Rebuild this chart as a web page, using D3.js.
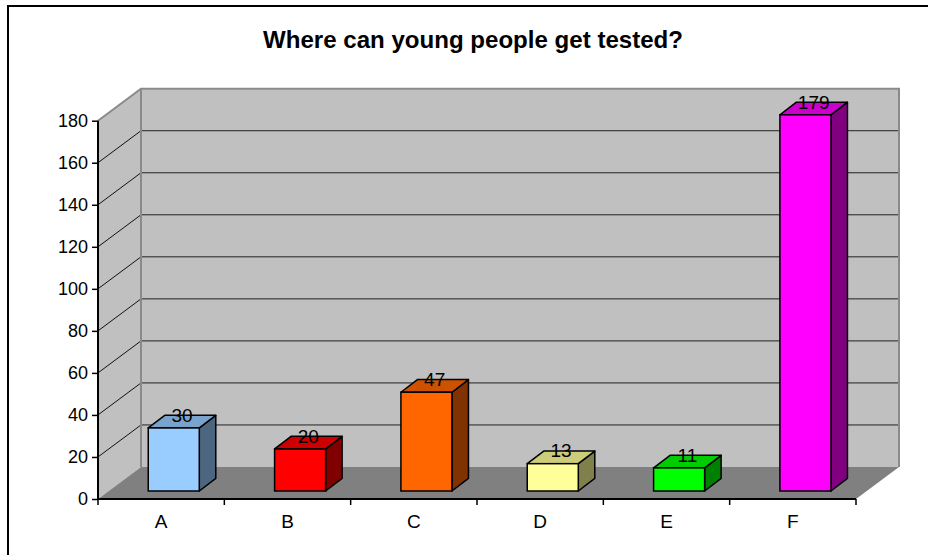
<!DOCTYPE html>
<html>
<head>
<meta charset="utf-8">
<script src="https://cdn.jsdelivr.net/npm/d3@7"></script>
<style>
  html, body { margin: 0; padding: 0; background: #fff; }
  svg { display: block; font-family: "Liberation Sans", Arial, sans-serif; }
</style>
</head>
<body>
<svg id="chart" width="928" height="555"></svg>
<script>
// ---- data ----
const categories = ["A", "B", "C", "D", "E", "F"];
const values = [30, 20, 47, 13, 11, 179];
const barColors = ["#99CCFF", "#FF0000", "#FF6600", "#FFFF99", "#00FF00", "#FF00FF"];
const yTicks = [0, 20, 40, 60, 80, 100, 120, 140, 160, 180];
const title = "Where can young people get tested?";

// ---- layout ----
const svg = d3.select("#chart");
const front = { left: 98, right: 856, bottom: 499, top: 120.7 };
const depth = { dx: 43, dy: -32 };            // full floor depth offset
const barOff = { dx: 12.6, dy: -8 };           // bar front face offset into depth
const barDepth = { dx: 16.5, dy: -12.6 };      // bar depth
const barFrac = 0.404;

const x = d3.scaleBand().domain(categories).range([front.left, front.right]).padding(0);
const y = d3.scaleLinear().domain([0, 180]).range([front.bottom, front.top]);

// outer border
svg.append("rect").attr("x", 8).attr("y", 6).attr("width", 1000).attr("height", 1000)
  .attr("fill", "none").attr("stroke", "#000").attr("stroke-width", 2);

// title
svg.append("text").attr("x", 473).attr("y", 48).attr("text-anchor", "middle")
  .attr("font-size", 24).attr("font-weight", "bold").attr("fill", "#000")
  .attr("textLength", 420).attr("lengthAdjust", "spacingAndGlyphs")
  .text(title);

const g = svg.append("g");
const bx0 = front.left + depth.dx, bx1 = front.right + depth.dx;
const y0 = y(0), yTop = y(180);

// side wall
g.append("polygon")
  .attr("points", [[front.left, yTop], [bx0, yTop + depth.dy], [bx0, y0 + depth.dy], [front.left, y0]].join(" "))
  .attr("fill", "#C0C0C0");
// back wall
g.append("rect").attr("x", bx0).attr("y", yTop + depth.dy).attr("width", bx1 - bx0).attr("height", y0 - yTop)
  .attr("fill", "#C0C0C0");
// floor
g.append("polygon")
  .attr("points", [[front.left, y0], [front.right, y0], [bx1, y0 + depth.dy], [bx0, y0 + depth.dy]].join(" "))
  .attr("fill", "#808080");

// gridlines
const grid = yTicks.filter(v => v > 0 && v < 180);
g.selectAll("line.gb").data(grid).join("line").attr("class", "gb")
  .attr("x1", bx0).attr("x2", bx1).attr("y1", d => y(d) + depth.dy).attr("y2", d => y(d) + depth.dy)
  .attr("stroke", "#222").attr("stroke-width", 1);
g.selectAll("line.gs").data(grid).join("line").attr("class", "gs")
  .attr("x1", front.left).attr("x2", bx0).attr("y1", d => y(d)).attr("y2", d => y(d) + depth.dy)
  .attr("stroke", "#111").attr("stroke-width", 1);

// wall edges
const edge = "#8a8a8a";
g.append("polyline")
  .attr("points", [[front.left, yTop], [bx0, yTop + depth.dy], [bx1, yTop + depth.dy], [bx1, y0 + depth.dy]].join(" "))
  .attr("fill", "none").attr("stroke", edge).attr("stroke-width", 2);
g.append("line").attr("x1", bx0).attr("x2", bx0).attr("y1", yTop + depth.dy).attr("y2", y0 + depth.dy)
  .attr("stroke", edge).attr("stroke-width", 2);

// bars
const shade = (c, k) => { const r = d3.rgb(c); return d3.rgb(r.r * k, r.g * k, r.b * k).formatHex(); };
const bars = g.selectAll("g.bar").data(categories.map((c, i) => ({ c, v: values[i], col: barColors[i] })))
  .join("g").attr("class", "bar");
const bw = x.bandwidth() * barFrac;
bars.each(function (d) {
  const s = d3.select(this);
  const xl = x(d.c) + (x.bandwidth() - bw) / 2 + barOff.dx;
  const xr = xl + bw;
  const yb = y(0) + barOff.dy;
  const yt = y(d.v) + barOff.dy;
  const ddx = barDepth.dx, ddy = barDepth.dy;
  // side
  s.append("polygon").attr("points", [[xr, yt], [xr + ddx, yt + ddy], [xr + ddx, yb + ddy], [xr, yb]].join(" "))
    .attr("fill", shade(d.col, 0.5)).attr("stroke", "#000").attr("stroke-width", 1.5).attr("stroke-linejoin", "round");
  // top
  s.append("polygon").attr("points", [[xl, yt], [xl + ddx, yt + ddy], [xr + ddx, yt + ddy], [xr, yt]].join(" "))
    .attr("fill", shade(d.col, 0.8)).attr("stroke", "#000").attr("stroke-width", 1.5).attr("stroke-linejoin", "round");
  // front
  s.append("rect").attr("x", xl).attr("y", yt).attr("width", bw).attr("height", yb - yt)
    .attr("fill", d.col).attr("stroke", "#000").attr("stroke-width", 1.5);
  // label
  s.append("text").attr("x", (xl + xr) / 2 + ddx / 2).attr("y", yt + ddy / 2)
    .attr("text-anchor", "middle").attr("font-size", 19).attr("fill", "#000").text(d.v);
});

// y axis
const yAxis = svg.append("g").attr("transform", `translate(${front.left},0)`)
  .call(d3.axisLeft(y).tickValues(yTicks).tickSize(6).tickPadding(4).tickFormat(d3.format("d")));
yAxis.select(".domain").attr("stroke", "#000").attr("stroke-width", 2).attr("d", `M0,${y0}V${yTop}`);
yAxis.selectAll(".tick line").attr("stroke", "#000").attr("stroke-width", 1.5);
yAxis.selectAll(".tick text").attr("font-size", 18).attr("font-family", "Liberation Sans, Arial, sans-serif").attr("fill", "#000");

// x axis
const xAxis = svg.append("g").attr("transform", `translate(0,${y0})`)
  .call(d3.axisBottom(x).tickSize(0).tickPadding(16));
xAxis.select(".domain").attr("stroke", "#000").attr("stroke-width", 2).attr("d", `M${front.left},0H${front.right}`);
xAxis.selectAll(".tick text").attr("font-size", 19).attr("font-family", "Liberation Sans, Arial, sans-serif").attr("fill", "#000")
  .attr("dy", "0.71em");
const bounds = categories.map(c => x(c)).concat([x.range()[1]]);
xAxis.selectAll("line.sep").data(bounds).join("line").attr("class", "sep")
  .attr("x1", d => d).attr("x2", d => d).attr("y1", 0).attr("y2", 6)
  .attr("stroke", "#000").attr("stroke-width", 1.5);
</script>
</body>
</html>
